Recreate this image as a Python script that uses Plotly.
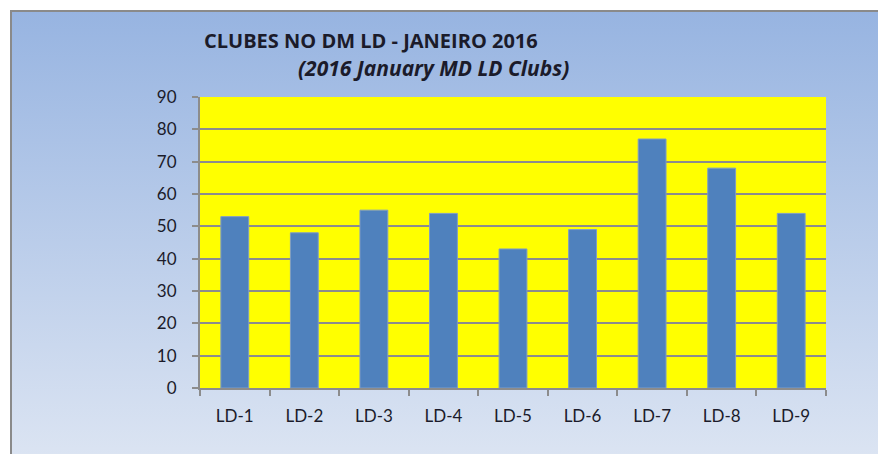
import plotly.graph_objects as go
import base64

categories = ["LD-1", "LD-2", "LD-3", "LD-4", "LD-5", "LD-6", "LD-7", "LD-8", "LD-9"]
clubs = [53, 48, 55, 54, 43, 49, 77, 68, 54]
y_ticks = [0, 10, 20, 30, 40, 50, 60, 70, 80, 90]

title_line1 = "CLUBES NO DM LD - JANEIRO 2016"
title_line2 = "(2016 January MD LD Clubs)"

W, H = 878, 454
PL, PR, PT, PB = 200, 826, 97, 388  # plot area in page pixels
L, T = PL, PT
R, B = W - PR, H - PB
pw, ph = W - L - R, H - T - B

def px_x(p):
    return (p - L) / pw

def px_y(p):
    return (H - B - p) / ph

svg = f"""<svg xmlns='http://www.w3.org/2000/svg' width='{W}' height='{H}' viewBox='0 0 {W} {H}' preserveAspectRatio='none'>
<defs><linearGradient id='g' x1='0' y1='0' x2='0' y2='1'>
<stop offset='0' stop-color='#97B4E1'/><stop offset='1' stop-color='#DEE6F3'/></linearGradient></defs>
<rect x='0' y='0' width='{W}' height='{H}' fill='white'/>
<rect x='11' y='11' width='{W+10}' height='{H+10}' fill='url(#g)' stroke='#8A8A8A' stroke-width='2'/>
</svg>"""
src = "data:image/svg+xml;base64," + base64.b64encode(svg.encode()).decode()

font = "Lato, 'Open Sans', sans-serif"
tfont = "'Open Sans', Lato, sans-serif"
txt = "#1b1b2a"

fig = go.Figure()
fig.add_trace(go.Bar(
    x=categories, y=clubs,
    marker=dict(color="#4F81BD", line=dict(color="#7F9CC6", width=1)),
    hoverinfo="x+y",
))

fig.update_layout(
    width=W, height=H,
    margin=dict(l=L, r=R, t=T, b=B, pad=0),
    paper_bgcolor="#DEE6F3",
    plot_bgcolor="#FFFF00",
    bargap=0.6,
    showlegend=False,
    font=dict(family=font, size=17, color=txt),
    images=[dict(source=src, xref="paper", yref="paper",
                 x=-L / pw, y=1 + T / ph, sizex=W / pw, sizey=H / ph,
                 xanchor="left", yanchor="top", sizing="stretch", layer="below")],
    shapes=[dict(type="rect", xref="paper", yref="paper", x0=0, x1=1, y0=0, y1=1,
                 fillcolor="#FFFF00", line=dict(width=0), layer="below")],
    annotations=[
        dict(text=f"<b>{title_line1}</b>", xref="paper", yref="paper",
             x=px_x(371), y=px_y(40), xanchor="center", yanchor="middle",
             showarrow=False, font=dict(family=tfont, size=20, color=txt)),
        dict(text=f"<b><i>{title_line2}</i></b>", xref="paper", yref="paper",
             x=px_x(433), y=px_y(68), xanchor="center", yanchor="middle",
             showarrow=False, font=dict(family=tfont, size=21, color=txt)),
    ],
)

fig.update_xaxes(
    showgrid=False, showline=True, linecolor="#8C8C8C", linewidth=2,
    ticks="outside", tickson="boundaries", ticklen=6, tickcolor="#8C8C8C", tickwidth=2,
    ticklabelstandoff=12, tickfont=dict(size=17, color=txt), mirror=False,
)
fig.update_yaxes(
    range=[0, 90], tickvals=y_ticks, showgrid=True, gridcolor="#8C8C8C", gridwidth=2,
    showline=True, linecolor="#8C8C8C", linewidth=2, zeroline=False,
    ticks="outside", ticklen=6, tickcolor="#8C8C8C", tickwidth=2,
    ticklabelstandoff=12, tickfont=dict(size=17, color=txt),
)

fig.write_html(
    "out.html",
    config={"displayModeBar": False},
    post_script=(
        "document.documentElement.style.overflow='hidden';"
        "document.body.style.margin='0';document.body.style.overflow='hidden';"
    ),
)
